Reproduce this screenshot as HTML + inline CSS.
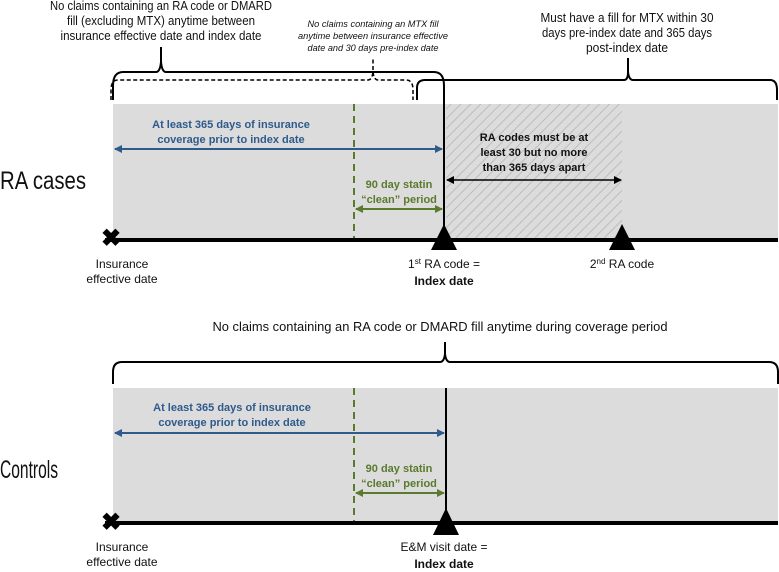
<!DOCTYPE html>
<html><head><meta charset="utf-8"><style>
html,body{margin:0;padding:0;background:#fff;}
svg{display:block;font-family:"Liberation Sans",sans-serif;}
</style></head><body>
<svg width="779" height="572" viewBox="0 0 779 572" xmlns="http://www.w3.org/2000/svg">
<defs>
<pattern id="h" width="7" height="7" patternUnits="userSpaceOnUse" patternTransform="rotate(45)">
<rect width="7" height="7" fill="#dcdcdc"/><line x1="0" y1="0" x2="0" y2="7" stroke="#bdbdbd" stroke-width="2"/>
</pattern>
<marker id="ab" markerWidth="8" markerHeight="8" refX="7" refY="4" orient="auto-start-reverse" markerUnits="userSpaceOnUse"><path d="M0,0 L8,4 L0,8z" fill="#2e5a8c"/></marker>
<marker id="ag" markerWidth="8" markerHeight="8" refX="7" refY="4" orient="auto-start-reverse" markerUnits="userSpaceOnUse"><path d="M0,0 L8,4 L0,8z" fill="#5a7a2e"/></marker>
<marker id="ak" markerWidth="8" markerHeight="8" refX="7" refY="4" orient="auto-start-reverse" markerUnits="userSpaceOnUse"><path d="M0,0 L8,4 L0,8z" fill="#000"/></marker>
</defs>

<rect x="113" y="104" width="665" height="136" fill="#dcdcdc"/>
<rect x="446" y="104" width="176" height="136" fill="url(#h)"/>
<line x1="354" y1="104" x2="354" y2="240" stroke="#5a7a2e" stroke-width="2" stroke-dasharray="7,5"/>
<line x1="444" y1="85" x2="444" y2="240" stroke="#000" stroke-width="2"/>
<line x1="105" y1="240" x2="778" y2="240" stroke="#000" stroke-width="4"/>

<path d="M113,100 L113,86 Q113,72 123,72 L156,72 Q160,72 161,62 L161,47 M161,62 Q162,72 166,72 L434,72 Q444,72 444,86 L444,100" fill="none" stroke="#000" stroke-width="2"/>
<path d="M111,100 L111,90 Q111,80 118,80 L368,80 Q372,80 373,72 L373,58 M373,72 Q374,80 378,80 L406,80 Q413,80 413,90 L413,100" fill="none" stroke="#000" stroke-width="1.5" stroke-dasharray="4,2.5"/>
<path d="M417,100 L417,88 Q417,80 425,80 L624,80 Q628,80 628,72 L628,58 M628,72 Q629,80 633,80 L770,80 Q777,80 777,90 L777,100" fill="none" stroke="#000" stroke-width="2"/>

<g font-size="13" text-anchor="middle" fill="#111">
<text x="161" y="10" textLength="222" lengthAdjust="spacingAndGlyphs">No claims containing an RA code or DMARD</text>
<text x="161" y="25" textLength="188" lengthAdjust="spacingAndGlyphs">fill (excluding MTX) anytime between</text>
<text x="161" y="40" textLength="201" lengthAdjust="spacingAndGlyphs">insurance effective date and index date</text>
<text x="627" y="22" textLength="173" lengthAdjust="spacingAndGlyphs">Must have a fill for MTX within 30</text>
<text x="627" y="37" textLength="170" lengthAdjust="spacingAndGlyphs">days pre-index date and 365 days</text>
<text x="627" y="52" textLength="82" lengthAdjust="spacingAndGlyphs">post-index date</text>
</g>
<g font-size="9" font-style="italic" text-anchor="middle" fill="#111">
<text x="373" y="27" textLength="131" lengthAdjust="spacingAndGlyphs">No claims containing an MTX fill</text>
<text x="373" y="39" textLength="150" lengthAdjust="spacingAndGlyphs">anytime between insurance effective</text>
<text x="373" y="51" textLength="131" lengthAdjust="spacingAndGlyphs">date and 30 days pre-index date</text>
</g>

<g font-size="11" font-weight="bold" text-anchor="middle">
<text x="231" y="128" fill="#2e5a8c">At least 365 days of insurance</text>
<text x="231" y="143" fill="#2e5a8c">coverage prior to index date</text>
<text x="399" y="188" fill="#5a7a2e">90 day statin</text>
<text x="399" y="203" fill="#5a7a2e">“clean” period</text>
<text x="534" y="141" fill="#111">RA codes must be at</text>
<text x="534" y="156" fill="#111">least 30 but no more</text>
<text x="534" y="171" fill="#111">than 365 days apart</text>
</g>
<line x1="115" y1="149" x2="442" y2="149" stroke="#2e5a8c" stroke-width="2" marker-start="url(#ab)" marker-end="url(#ab)"/>
<line x1="356" y1="209" x2="442" y2="209" stroke="#5a7a2e" stroke-width="2" marker-start="url(#ag)" marker-end="url(#ag)"/>
<line x1="447" y1="180" x2="621" y2="180" stroke="#000" stroke-width="1.5" marker-start="url(#ak)" marker-end="url(#ak)"/>

<text x="0" y="189" font-size="25" fill="#111" textLength="86" lengthAdjust="spacingAndGlyphs">RA cases</text>
<text x="111" y="246" font-size="24" font-weight="bold" text-anchor="middle" fill="#000">✖</text>
<polygon points="444,224 431,250 457,250" fill="#000"/>
<polygon points="622,224 609,250 635,250" fill="#000"/>
<g font-size="12" text-anchor="middle" fill="#111">
<text x="122" y="268">Insurance</text>
<text x="122" y="283">effective date</text>
<text x="444" y="268">1<tspan font-size="8" dy="-4">st</tspan><tspan dy="4"> RA code =</tspan></text>
<text x="444" y="285" font-weight="bold">Index date</text>
<text x="622" y="268">2<tspan font-size="8" dy="-4">nd</tspan><tspan dy="4"> RA code</tspan></text>
</g>

<text x="440" y="331" font-size="13" text-anchor="middle" fill="#111" textLength="455" lengthAdjust="spacingAndGlyphs">No claims containing an RA code or DMARD fill anytime during coverage period</text>
<path d="M113,384 L113,372 Q113,362 122,362 L440,362 Q444,362 445,354 L445,342 M445,354 Q446,362 450,362 L769,362 Q778,362 778,372 L778,384" fill="none" stroke="#000" stroke-width="2"/>
<rect x="113" y="388" width="665" height="135" fill="#dcdcdc"/>
<line x1="354" y1="388" x2="354" y2="523" stroke="#5a7a2e" stroke-width="2" stroke-dasharray="7,5"/>
<line x1="446" y1="388" x2="446" y2="523" stroke="#000" stroke-width="2"/>
<line x1="105" y1="523" x2="778" y2="523" stroke="#000" stroke-width="4"/>
<g font-size="11" font-weight="bold" text-anchor="middle">
<text x="232" y="411" fill="#2e5a8c">At least 365 days of insurance</text>
<text x="232" y="426" fill="#2e5a8c">coverage prior to index date</text>
<text x="399" y="472" fill="#5a7a2e">90 day statin</text>
<text x="399" y="487" fill="#5a7a2e">“clean” period</text>
</g>
<line x1="115" y1="433" x2="444" y2="433" stroke="#2e5a8c" stroke-width="2" marker-start="url(#ab)" marker-end="url(#ab)"/>
<line x1="356" y1="493" x2="444" y2="493" stroke="#5a7a2e" stroke-width="2" marker-start="url(#ag)" marker-end="url(#ag)"/>
<text x="0" y="478" font-size="25" fill="#111" textLength="58" lengthAdjust="spacingAndGlyphs">Controls</text>
<text x="111" y="530" font-size="24" font-weight="bold" text-anchor="middle" fill="#000">✖</text>
<polygon points="446,508 433,535 459,535" fill="#000"/>
<g font-size="12" text-anchor="middle" fill="#111">
<text x="122" y="551">Insurance</text>
<text x="122" y="566">effective date</text>
<text x="444" y="551">E&amp;M visit date =</text>
<text x="444" y="568" font-weight="bold">Index date</text>
</g>
</svg>
</body></html>
